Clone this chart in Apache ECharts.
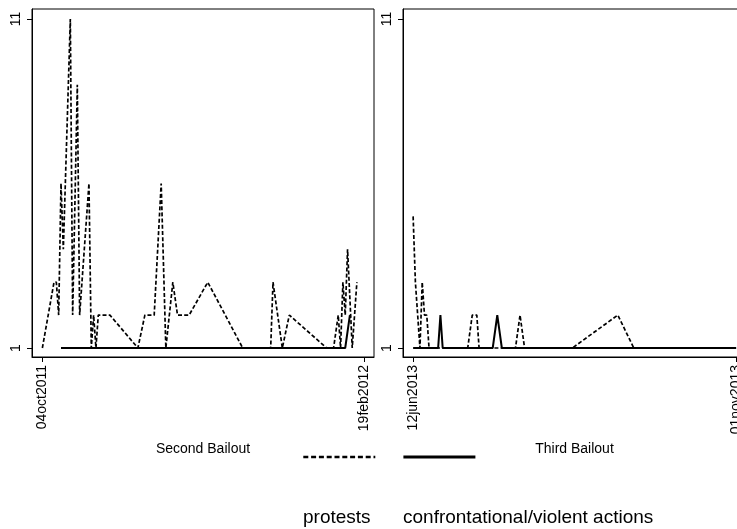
<!DOCTYPE html>
<html>
<head>
<meta charset="utf-8">
<script src="https://cdn.jsdelivr.net/npm/echarts@6/dist/echarts.min.js"></script>
<style>
  html, body { margin: 0; padding: 0; background: #fff; }
  #chart { width: 737px; height: 529px; }
</style>
</head>
<body>
<div id="chart"></div>
<script>
// Second bailout (left panel)
const protestDates2 = ['2011-10-04', '2011-10-09', '2011-10-10', '2011-10-11', '2011-10-12', '2011-10-13',
  '2011-10-16', '2011-10-17', '2011-10-19', '2011-10-20', '2011-10-24', '2011-10-25', '2011-10-26',
  '2011-10-27', '2011-10-28', '2011-11-02', '2011-11-14', '2011-11-17', '2011-11-21', '2011-11-24',
  '2011-11-26', '2011-11-29', '2011-12-01', '2011-12-06', '2011-12-14', '2011-12-29', '2012-01-10',
  '2012-01-11', '2012-01-15', '2012-01-18', '2012-02-03', '2012-02-06', '2012-02-08', '2012-02-09',
  '2012-02-10', '2012-02-11', '2012-02-12', '2012-02-14', '2012-02-16']
const protestValues2 = [1, 3, 3, 2, 6, 4, 11, 2, 9, 2, 6, 1, 2, 1, 2, 2, 1, 2, 2, 6, 1, 3, 2, 2, 3, 1, 1,
  3, 1, 2, 1, 1, 2, 1, 3, 2, 4, 1, 3]
const violentDates2 = ['2011-10-12', '2012-02-11', '2012-02-13']
const violentValues2 = [1, 1, 2]

// Third bailout (right panel)
const protestDates3 = ['2013-06-12', '2013-06-13', '2013-06-15', '2013-06-16', '2013-06-17', '2013-06-18',
  '2013-06-19', '2013-07-06', '2013-07-08', '2013-07-10', '2013-07-11', '2013-07-27', '2013-07-29',
  '2013-07-31', '2013-08-21', '2013-09-10', '2013-09-17', '2013-11-01']
const protestValues3 = [5, 3, 1, 3, 2, 2, 1, 1, 2, 2, 1, 1, 2, 1, 1, 2, 1, 1]
const violentDates3 = ['2013-06-12', '2013-06-23', '2013-06-24', '2013-06-25', '2013-07-17', '2013-07-19',
  '2013-07-21', '2013-11-01']
const violentValues3 = [1, 1, 2, 1, 1, 2, 1, 1]

// axis labels
const ticks2 = ['2011-10-04', '2012-02-19']
const ticks3 = ['2013-06-12', '2013-11-01']
const yTicks = [1, 11]
const panelTitles = ['Second Bailout', 'Third Bailout']
const seriesNames = ['protests', 'confrontational/violent actions']

const FONT = 'Liberation Sans, Arial, Helvetica, sans-serif'
const MONTHS = ['jan', 'feb', 'mar', 'apr', 'may', 'jun', 'jul', 'aug', 'sep', 'oct', 'nov', 'dec']

// days since 1960-01-01, like a Stata daily date
function sday(s) {
  const p = s.split('-').map(Number)
  return Math.round((Date.UTC(p[0], p[1] - 1, p[2]) - Date.UTC(1960, 0, 1)) / 86400000)
}
function stataDate(v) {
  const d = new Date(Date.UTC(1960, 0, 1) + Math.round(v) * 86400000)
  const dd = String(d.getUTCDate()).padStart(2, '0')
  return dd + MONTHS[d.getUTCMonth()] + d.getUTCFullYear()
}
function pairs(dates, values) {
  return dates.map((d, i) => [sday(d), values[i]])
}

const chart = echarts.init(document.getElementById('chart'), null, { renderer: 'canvas' })

function xAxisFor(gridIndex, ticks, name) {
  const t = ticks.map(sday)
  return {
    type: 'value',
    gridIndex: gridIndex,
    min: t[0] - 4.45,
    max: t[1] + 4.35,
    name: name,
    nameLocation: 'middle',
    nameGap: 85,
    nameTextStyle: { color: '#000', fontFamily: FONT, fontSize: 14 },
    axisLine: { show: true, onZero: false, lineStyle: { color: '#000', width: 1 } },
    axisTick: { show: true, length: 5, customValues: t, lineStyle: { color: '#000' } },
    axisLabel: {
      customValues: t,
      rotate: 90,
      margin: 8,
      color: '#000',
      fontFamily: FONT,
      fontSize: 14,
      formatter: (v) => stataDate(v)
    },
    splitLine: { show: false }
  }
}

function yAxisFor(gridIndex) {
  return {
    type: 'value',
    gridIndex: gridIndex,
    min: 1 - 9 / 32.9,
    max: 11 + 10 / 32.9,
    axisLine: { show: true, onZero: false, lineStyle: { color: '#000', width: 1 } },
    axisTick: { show: true, length: 5, customValues: yTicks, lineStyle: { color: '#000' } },
    axisLabel: {
      customValues: yTicks,
      rotate: 90,
      margin: 9,
      color: '#000',
      fontFamily: FONT,
      fontSize: 14
    },
    splitLine: { show: false }
  }
}

const dashed = { color: '#000', width: 1.7, type: [4, 2.2] }
const solid = { color: '#000', width: 2, type: 'solid' }

function lineSeries(name, idx, data, style) {
  return {
    name: name,
    type: 'line',
    xAxisIndex: idx,
    yAxisIndex: idx,
    data: data,
    showSymbol: false,
    symbol: 'none',
    lineStyle: style,
    itemStyle: { color: '#000' },
    emphasis: { disabled: true },
    silent: true
  }
}

const legendBase = {
  top: 450, itemWidth: 72, itemHeight: 14, padding: 0,
  selectedMode: false, formatter: () => '', textStyle: { fontSize: 1 },
  itemStyle: { opacity: 0, borderWidth: 0 }
}

chart.setOption({
  animation: false,
  backgroundColor: '#fff',
  grid: [
    { left: 32, top: 9, width: 342, height: 348, show: true, borderColor: '#000', borderWidth: 1,
      outerBoundsMode: 'none', containLabel: false },
    { left: 403, top: 9, width: 343, height: 348, show: true, borderColor: '#000', borderWidth: 1,
      outerBoundsMode: 'none', containLabel: false }
  ],
  xAxis: [xAxisFor(0, ticks2, panelTitles[0]), xAxisFor(1, ticks3, panelTitles[1])],
  yAxis: [yAxisFor(0), yAxisFor(1)],
  legend: [
    Object.assign({}, legendBase, {
      left: 302,
      data: [{ name: seriesNames[0], lineStyle: { width: 2.6, type: [5, 2.8] } }]
    }),
    Object.assign({}, legendBase, {
      left: 402,
      data: [{ name: seriesNames[1], lineStyle: { width: 2.8 } }]
    })
  ],
  graphic: [
    { type: 'text', left: 303, top: 508, silent: true,
      style: { text: seriesNames[0], fill: '#000', font: '19px ' + FONT } },
    { type: 'text', left: 403, top: 508, silent: true,
      style: { text: seriesNames[1], fill: '#000', font: '19px ' + FONT } }
  ],
  series: [
    lineSeries(seriesNames[0], 0, pairs(protestDates2, protestValues2), dashed),
    lineSeries(seriesNames[1], 0, pairs(violentDates2, violentValues2), solid),
    lineSeries(seriesNames[0], 1, pairs(protestDates3, protestValues3), dashed),
    lineSeries(seriesNames[1], 1, pairs(violentDates3, violentValues3), solid)
  ]
})
</script>
</body>
</html>
